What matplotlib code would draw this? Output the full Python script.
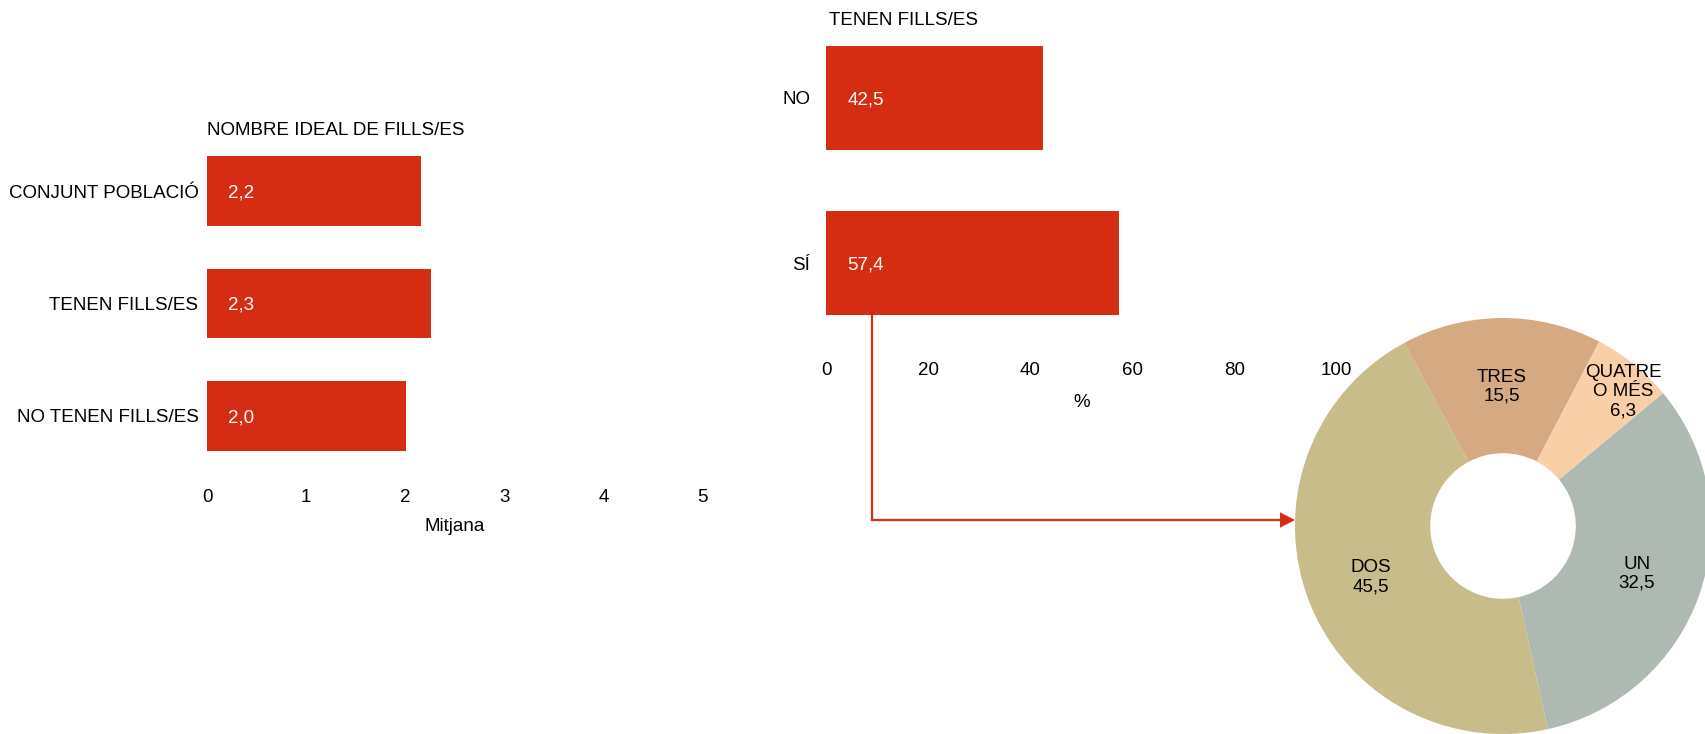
import matplotlib
matplotlib.use("Agg")
import matplotlib.pyplot as plt
from matplotlib.patches import Polygon
import numpy as np

plt.rcParams['font.family'] = ['Liberation Sans', 'DejaVu Sans']

# ---- data ----
ideal_categories = ["CONJUNT POBLACIÓ", "TENEN FILLS/ES", "NO TENEN FILLS/ES"]
ideal_values = [2.16, 2.26, 2.01]
ideal_ticks = [0, 1, 2, 3, 4, 5]

have_categories = ["NO", "SÍ"]
have_values = [42.5, 57.4]
have_ticks = [0, 20, 40, 60, 80, 100]

pie_labels = ["UN", "DOS", "TRES", "QUATRE\nO MÉS"]
pie_values = [32.5, 45.5, 15.5, 6.3]
pie_colors = ["#ADB9B1", "#C7BC8A", "#D5AA82", "#F9CFA7"]

RED = "#D52D12"
FS = 13.5
W, H = 1706, 734

fig = plt.figure(figsize=(W / 100, H / 100), dpi=100)


def fx(x):
    return x / W


def fy(y):
    return 1 - y / H


def fmt(v):
    return f"{v:.1f}".replace(".", ",")


# ---- left bar chart ----
axL = fig.add_axes([fx(207.2), fy(472.25), (702.5 - 207.2) / W, (472.25 - 134.75) / H])
yL = np.arange(len(ideal_categories))
axL.barh(yL, ideal_values, height=0.62, color=RED)
axL.set_xlim(0, 5)
axL.set_ylim(len(ideal_categories) - 0.5, -0.5)
axL.set_yticks(yL, ideal_categories, fontsize=FS)
axL.set_xticks(ideal_ticks, [str(t) for t in ideal_ticks], fontsize=FS)
axL.tick_params(axis='y', length=0, pad=6.3)
axL.tick_params(axis='x', length=0, pad=12.2)
axL.set_xlabel("Mitjana", fontsize=FS, labelpad=8.5)
for s in axL.spines.values():
    s.set_visible(False)
for yi, v in zip(yL, ideal_values):
    axL.annotate(fmt(v), (0, yi), xytext=(21, -2), textcoords='offset pixels',
                 color='white', fontsize=FS, va='center', ha='left')
fig.text(fx(207), fy(130.5), "NOMBRE IDEAL DE FILLS/ES", fontsize=FS, va='center', ha='left')

# ---- right bar chart ----
axR = fig.add_axes([fx(826.3), fy(345.5), (1336.8 - 826.3) / W, (345.5 - 15.5) / H])
yR = np.arange(len(have_categories))
axR.barh(yR, have_values, height=0.63, color=RED)
axR.set_xlim(0, 100)
axR.set_ylim(len(have_categories) - 0.5, -0.5)
axR.set_yticks(yR, have_categories, fontsize=FS)
axR.set_xticks(have_ticks, [str(t) for t in have_ticks], fontsize=FS)
axR.tick_params(axis='y', length=0, pad=11.5)
axR.tick_params(axis='x', length=0, pad=12.2)
axR.set_xlabel("%", fontsize=FS, labelpad=10.5)
for s in axR.spines.values():
    s.set_visible(False)
for yi, v in zip(yR, have_values):
    axR.annotate(fmt(v), (0, yi), xytext=(21, -2), textcoords='offset pixels',
                 color='white', fontsize=FS, va='center', ha='left')
fig.text(fx(829), fy(20.5), "TENEN FILLS/ES", fontsize=FS, va='center', ha='left')

# ---- donut ----
R = 208
axP = fig.add_axes([fx(1503 - R), fy(526 + R), 2 * R / W, 2 * R / H])
wedges, _ = axP.pie(pie_values, colors=pie_colors, startangle=39.7, counterclock=False,
                    radius=1, wedgeprops=dict(width=0.65, linewidth=0))
axP.set_xlim(-1, 1)
axP.set_ylim(-1, 1)
axP.set_aspect('equal')
axP.axis('off')
for w in wedges:
    w.set_clip_on(False)
label_r = [0.68, 0.68, 0.68, 0.875]
label_dang = [0, 0, 0, -2.5]
for w, lab, v, r, da in zip(wedges, pie_labels, pie_values, label_r, label_dang):
    ang = np.deg2rad((w.theta1 + w.theta2) / 2 + da)
    axP.annotate(f"{lab}\n{fmt(v)}", (r * np.cos(ang), r * np.sin(ang)), xytext=(0, -2),
                 textcoords='offset pixels', ha='center', va='center',
                 fontsize=FS, linespacing=1.15, color='black')

# ---- connector arrow ----
axO = fig.add_axes([0, 0, 1, 1], zorder=5)
axO.set_xlim(0, W)
axO.set_ylim(H, 0)
axO.axis('off')
axO.patch.set_alpha(0)
axO.plot([872.5, 872.5, 1281], [315, 520, 520], color=RED, lw=1.6, solid_joinstyle='miter')
axO.add_patch(Polygon([[1280, 512.3], [1295, 520], [1280, 527.7]], closed=True, color=RED, lw=0))

fig.savefig("out.png", dpi=100)
